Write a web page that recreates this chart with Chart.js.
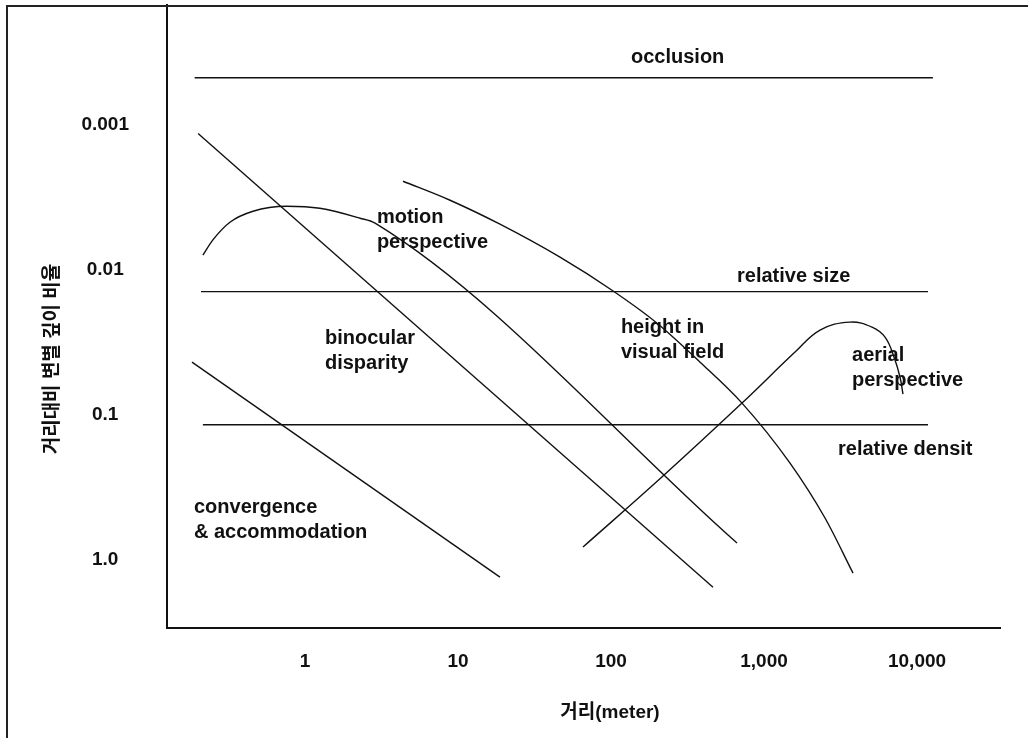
<!DOCTYPE html>
<html>
<head>
<meta charset="utf-8">
<script src="https://cdn.jsdelivr.net/npm/chart.js@4.4.1/dist/chart.umd.min.js"></script>
<style>
  html, body { margin: 0; padding: 0; background: #fff; }
  #wrap { position: relative; width: 1028px; height: 738px; overflow: hidden; }
  #frame { position: absolute; left: 6px; top: 5px; right: -4px; bottom: -4px; border-left: 2px solid #222; border-top: 2px solid #222; pointer-events: none; }
  canvas { position: absolute; left: 0; top: 0; }
</style>
</head>
<body>
<div id="wrap">
  <canvas id="depthChart" width="1028" height="738"></canvas>
  <div id="frame"></div>
</div>
<script>
// axes: distance (m) and depth-discrimination ratio, both log
const xTicks = [1, 10, 100, 1000, 10000];
const xTickLabels = ['1', '10', '100', '1,000', '10,000'];
const yTicks = [0.001, 0.01, 0.1, 1];
const yTickLabels = ['0.001', '0.01', '0.1', '1.0'];

const occlusionX = [0.19, 12700];
const occlusionY = [0.00047, 0.00047];

const relSizeX = [0.209, 11800];
const relSizeY = [0.0141, 0.0141];

const relDensityX = [0.215, 11800];
const relDensityY = [0.117, 0.117];

const binocularX = [0.2, 464];
const binocularY = [0.00114, 1.55];

const convergenceX = [0.1825, 18.8];
const convergenceY = [0.0433, 1.32];

const motionX = [0.215, 0.25, 0.323, 0.457, 0.76, 1.25, 2.29, 2.87, 666];
const motionY = [0.0079, 0.0062, 0.00468, 0.00393, 0.00363, 0.00375, 0.00439, 0.00475, 0.768];

const heightX = [4.37, 8.87, 18.8, 46.4, 101.5, 200, 382, 718, 1479, 2504, 3818];
const heightY = [0.00244, 0.0033, 0.00483, 0.00816, 0.0138, 0.0233, 0.0433, 0.083, 0.2155, 0.516, 1.24];

const aerialX = [65.6, 215, 718, 1595, 2323, 3648, 5082, 6180, 7080, 7745, 8093];
const aerialY = [0.818, 0.269, 0.083, 0.0369, 0.026, 0.0229, 0.0248, 0.0291, 0.04, 0.055, 0.072];

const cueLabels = [
  { lines: ['occlusion'], x: 135, y: 0.000374 },
  { lines: ['motion', 'perspective'], x: 2.95, y: 0.00475 },
  { lines: ['relative size'], x: 666, y: 0.0121 },
  { lines: ['binocular', 'disparity'], x: 1.35, y: 0.0325 },
  { lines: ['height in', 'visual field'], x: 116, y: 0.0273 },
  { lines: ['aerial', 'perspective'], x: 3760, y: 0.0426 },
  { lines: ['relative densit'], x: 3045, y: 0.19 },
  { lines: ['convergence', '& accommodation'], x: 0.188, y: 0.477 }
];

const xTitle = '거리(meter)';
const yTitle = '거리대비 변별 깊이 비율';

const pts = (xs, ys) => xs.map((x, i) => ({ x: x, y: ys[i] }));

const lineStyle = { borderColor: '#111', borderWidth: 1.4, pointRadius: 0, showLine: true, fill: false };

const textPlugin = {
  id: 'cueText',
  afterDatasetsDraw(chart) {
    const ctx = chart.ctx;
    const xs = chart.scales.x, ys = chart.scales.y;
    ctx.save();
    ctx.fillStyle = '#111';
    ctx.font = 'bold 20px "Liberation Sans", Arial, sans-serif';
    ctx.textAlign = 'left';
    ctx.textBaseline = 'alphabetic';
    cueLabels.forEach(l => {
      const px = xs.getPixelForValue(l.x);
      const py = ys.getPixelForValue(l.y);
      l.lines.forEach((t, i) => ctx.fillText(t, px, py + i * 25));
    });
    ctx.font = 'bold 19px "Liberation Sans", "Noto Sans CJK KR", sans-serif';
    ctx.textAlign = 'center';
    ctx.textBaseline = 'middle';
    ctx.fillText(xTitle, 610, 713);
    ctx.translate(53, 359);
    ctx.rotate(-Math.PI / 2);
    ctx.fillText(yTitle, 0, 0);
    ctx.restore();
  }
};

new Chart(document.getElementById('depthChart'), {
  type: 'scatter',
  data: {
    datasets: [
      { label: 'occlusion', data: pts(occlusionX, occlusionY), ...lineStyle },
      { label: 'relative size', data: pts(relSizeX, relSizeY), ...lineStyle },
      { label: 'relative density', data: pts(relDensityX, relDensityY), ...lineStyle },
      { label: 'binocular disparity', data: pts(binocularX, binocularY), ...lineStyle },
      { label: 'convergence', data: pts(convergenceX, convergenceY), ...lineStyle },
      { label: 'motion perspective', data: pts(motionX, motionY), ...lineStyle, cubicInterpolationMode: 'monotone' },
      { label: 'height in visual field', data: pts(heightX, heightY), ...lineStyle, cubicInterpolationMode: 'monotone' },
      { label: 'aerial perspective', data: pts(aerialX, aerialY), ...lineStyle, tension: 0.4 }
    ]
  },
  options: {
    responsive: false,
    animation: false,
    layout: { padding: { left: 0, right: 28, top: 5, bottom: 10 } },
    plugins: { legend: { display: false }, tooltip: { enabled: false } },
    scales: {
      x: {
        type: 'logarithmic',
        min: 0.1253,
        max: 34860,
        grid: { display: false, drawTicks: false },
        border: { display: true, color: '#111', width: 2 },
        afterBuildTicks: s => { s.ticks = xTicks.map(v => ({ value: v })); },
        afterFit: s => { s.height = 100; s.paddingLeft = 0; s.paddingRight = 0; },
        ticks: {
          autoSkip: false,
          maxRotation: 0,
          padding: 22,
          color: '#111',
          font: { family: '"Liberation Sans", Arial, sans-serif', size: 19, weight: 'bold' },
          callback: (v, i) => xTickLabels[i]
        }
      },
      y: {
        type: 'logarithmic',
        reverse: true,
        min: 0.000148,
        max: 2.965,
        grid: { display: false, drawTicks: false },
        border: { display: true, color: '#111', width: 2 },
        afterBuildTicks: s => { s.ticks = yTicks.map(v => ({ value: v })); },
        afterFit: s => { s.width = 167; s.paddingTop = 0; s.paddingBottom = 0; },
        ticks: {
          autoSkip: false,
          crossAlign: 'center',
          padding: 38,
          color: '#111',
          font: { family: '"Liberation Sans", Arial, sans-serif', size: 19, weight: 'bold' },
          callback: (v, i) => yTickLabels[i]
        }
      }
    }
  },
  plugins: [textPlugin]
});
</script>
</body>
</html>
